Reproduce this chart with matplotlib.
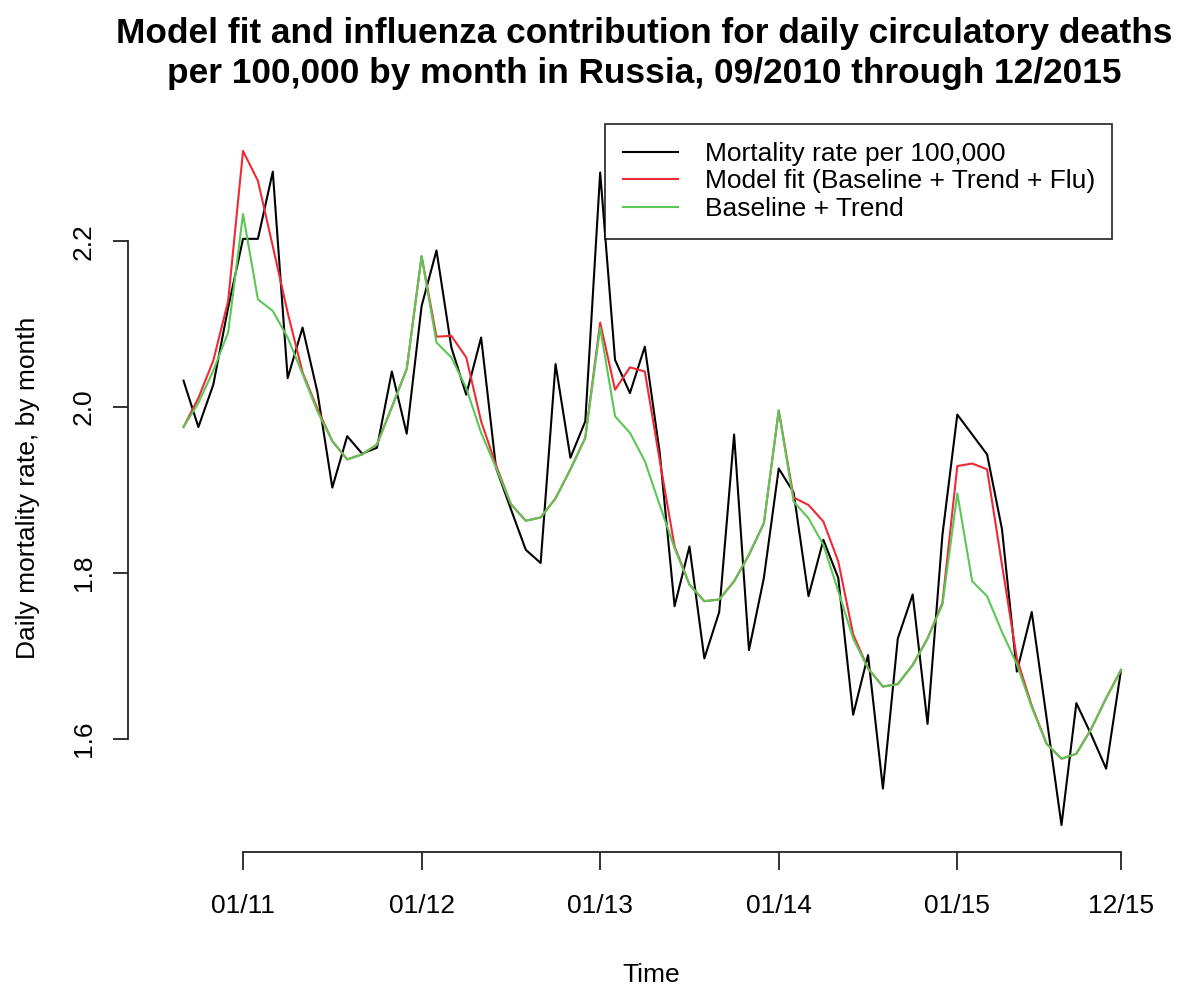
import matplotlib
matplotlib.use("Agg")
import matplotlib.pyplot as plt
import numpy as np

plt.rcParams['font.family'] = ['Liberation Sans', 'DejaVu Sans']

# Months 09/2010 .. 12/2015 (index 0..63)
months = list(range(64))

mortality = [2.032, 1.976, 2.027, 2.120, 2.203, 2.203, 2.284, 2.035, 2.096, 2.018,
             1.903, 1.965, 1.944, 1.951, 2.043, 1.968, 2.122, 2.189, 2.072, 2.015,
             2.084, 1.927, 1.877, 1.828, 1.812, 2.052, 1.939, 1.983, 2.283, 2.057,
             2.017, 2.073, 1.945, 1.760, 1.832, 1.697, 1.753, 1.967, 1.707, 1.794,
             1.926, 1.897, 1.772, 1.840, 1.794, 1.629, 1.701, 1.540, 1.721, 1.774,
             1.618, 1.846, 1.991, 1.967, 1.943, 1.853, 1.681, 1.753, 1.625, 1.496,
             1.643, 1.605, 1.564, 1.683]

baseline_trend = [1.976, 2.005, 2.044, 2.090, 2.233, 2.130, 2.116, 2.084, 2.040, 1.995,
                  1.959, 1.937, 1.943, 1.955, 2.000, 2.046, 2.182, 2.078, 2.060, 2.023,
                  1.969, 1.927, 1.883, 1.863, 1.867, 1.890, 1.925, 1.963, 2.096, 1.989,
                  1.969, 1.935, 1.882, 1.830, 1.786, 1.766, 1.768, 1.790, 1.822, 1.860,
                  1.996, 1.886, 1.866, 1.834, 1.778, 1.721, 1.685, 1.663, 1.666, 1.689,
                  1.721, 1.762, 1.896, 1.790, 1.772, 1.729, 1.690, 1.638, 1.594, 1.576,
                  1.582, 1.612, 1.649, 1.683]

model_fit = [1.976, 2.011, 2.056, 2.128, 2.309, 2.273, 2.194, 2.114, 2.042, 1.998,
             1.959, 1.937, 1.943, 1.955, 2.000, 2.046, 2.182, 2.085, 2.086, 2.060,
             1.983, 1.930, 1.883, 1.863, 1.867, 1.890, 1.925, 1.963, 2.102, 2.021,
             2.048, 2.043, 1.936, 1.832, 1.786, 1.766, 1.768, 1.790, 1.822, 1.860,
             1.996, 1.891, 1.882, 1.862, 1.814, 1.726, 1.685, 1.663, 1.666, 1.689,
             1.721, 1.764, 1.929, 1.932, 1.925, 1.810, 1.697, 1.640, 1.594, 1.576,
             1.582, 1.612, 1.649, 1.683]

xtick_pos = [4, 16, 28, 40, 52, 63]
xtick_labels = ["01/11", "01/12", "01/13", "01/14", "01/15", "12/15"]
ytick_pos = [1.6, 1.8, 2.0, 2.2]
ytick_labels = ["1.6", "1.8", "2.0", "2.2"]

W, H = 1178, 989
fig = plt.figure(figsize=(W / 100, H / 100), dpi=100)
left, right, top, bottom = 128, 1160, 124, 852
ax = fig.add_axes([left / W, 1 - bottom / H, (right - left) / W, (bottom - top) / H])

red = '#EE2A35'
green = '#5BC756'
lw = 1.5
ax.plot(months, mortality, color='black', lw=lw, label='Mortality rate per 100,000')
ax.plot(months, model_fit, color=red, lw=lw, label='Model fit (Baseline + Trend + Flu)')
ax.plot(months, baseline_trend, color=green, lw=lw, label='Baseline + Trend')

ax.set_xlim(-3.73, 65.62)
ax.set_ylim(1.4635, 2.3415)

for s in ['top', 'right']:
    ax.spines[s].set_visible(False)
ax.spines['left'].set_bounds(1.6, 2.2)
ax.spines['bottom'].set_bounds(4, 63)
for s in ['left', 'bottom']:
    ax.spines[s].set_linewidth(1.3)
    ax.spines[s].set_color('#222222')

ax.set_xticks(xtick_pos)
ax.set_xticklabels(xtick_labels, fontsize=19)
ax.set_yticks(ytick_pos)
ax.set_yticklabels(ytick_labels, fontsize=19)
ax.tick_params(axis='x', length=13, width=1.3, pad=17, color='#222222')
ax.tick_params(axis='y', length=11, width=1.3, pad=12, color='#222222')
for lab in ax.get_yticklabels():
    lab.set_rotation(90)
    lab.set_va('center')

fig.text(651 / W, 1 - 975 / H, "Time", ha='center', va='center', fontsize=19)
fig.text(28 / W, 1 - 488 / H, "Daily mortality rate, by month", ha='center', va='center',
         rotation=90, fontsize=19)

fig.text(644 / W, 1 - 43 / H, "Model fit and influenza contribution for daily circulatory deaths",
         ha='center', va='baseline', fontsize=25.4, fontweight='bold')
fig.text(644 / W, 1 - 83 / H, "per 100,000 by month in Russia, 09/2010 through 12/2015",
         ha='center', va='baseline', fontsize=25.4, fontweight='bold')

leg = ax.legend(loc='upper left',
                bbox_to_anchor=(605 / W, 1 - 234 / H, (1112 - 605) / W, (234 - 124) / H),
                bbox_transform=fig.transFigure, mode='expand',
                fontsize=19, frameon=True, fancybox=False, borderaxespad=0,
                handlelength=2.1, handletextpad=1.0, borderpad=0.68, labelspacing=0.13)
leg.get_frame().set_edgecolor('black')
leg.get_frame().set_linewidth(1.3)

fig.savefig("out.png", dpi=100)
